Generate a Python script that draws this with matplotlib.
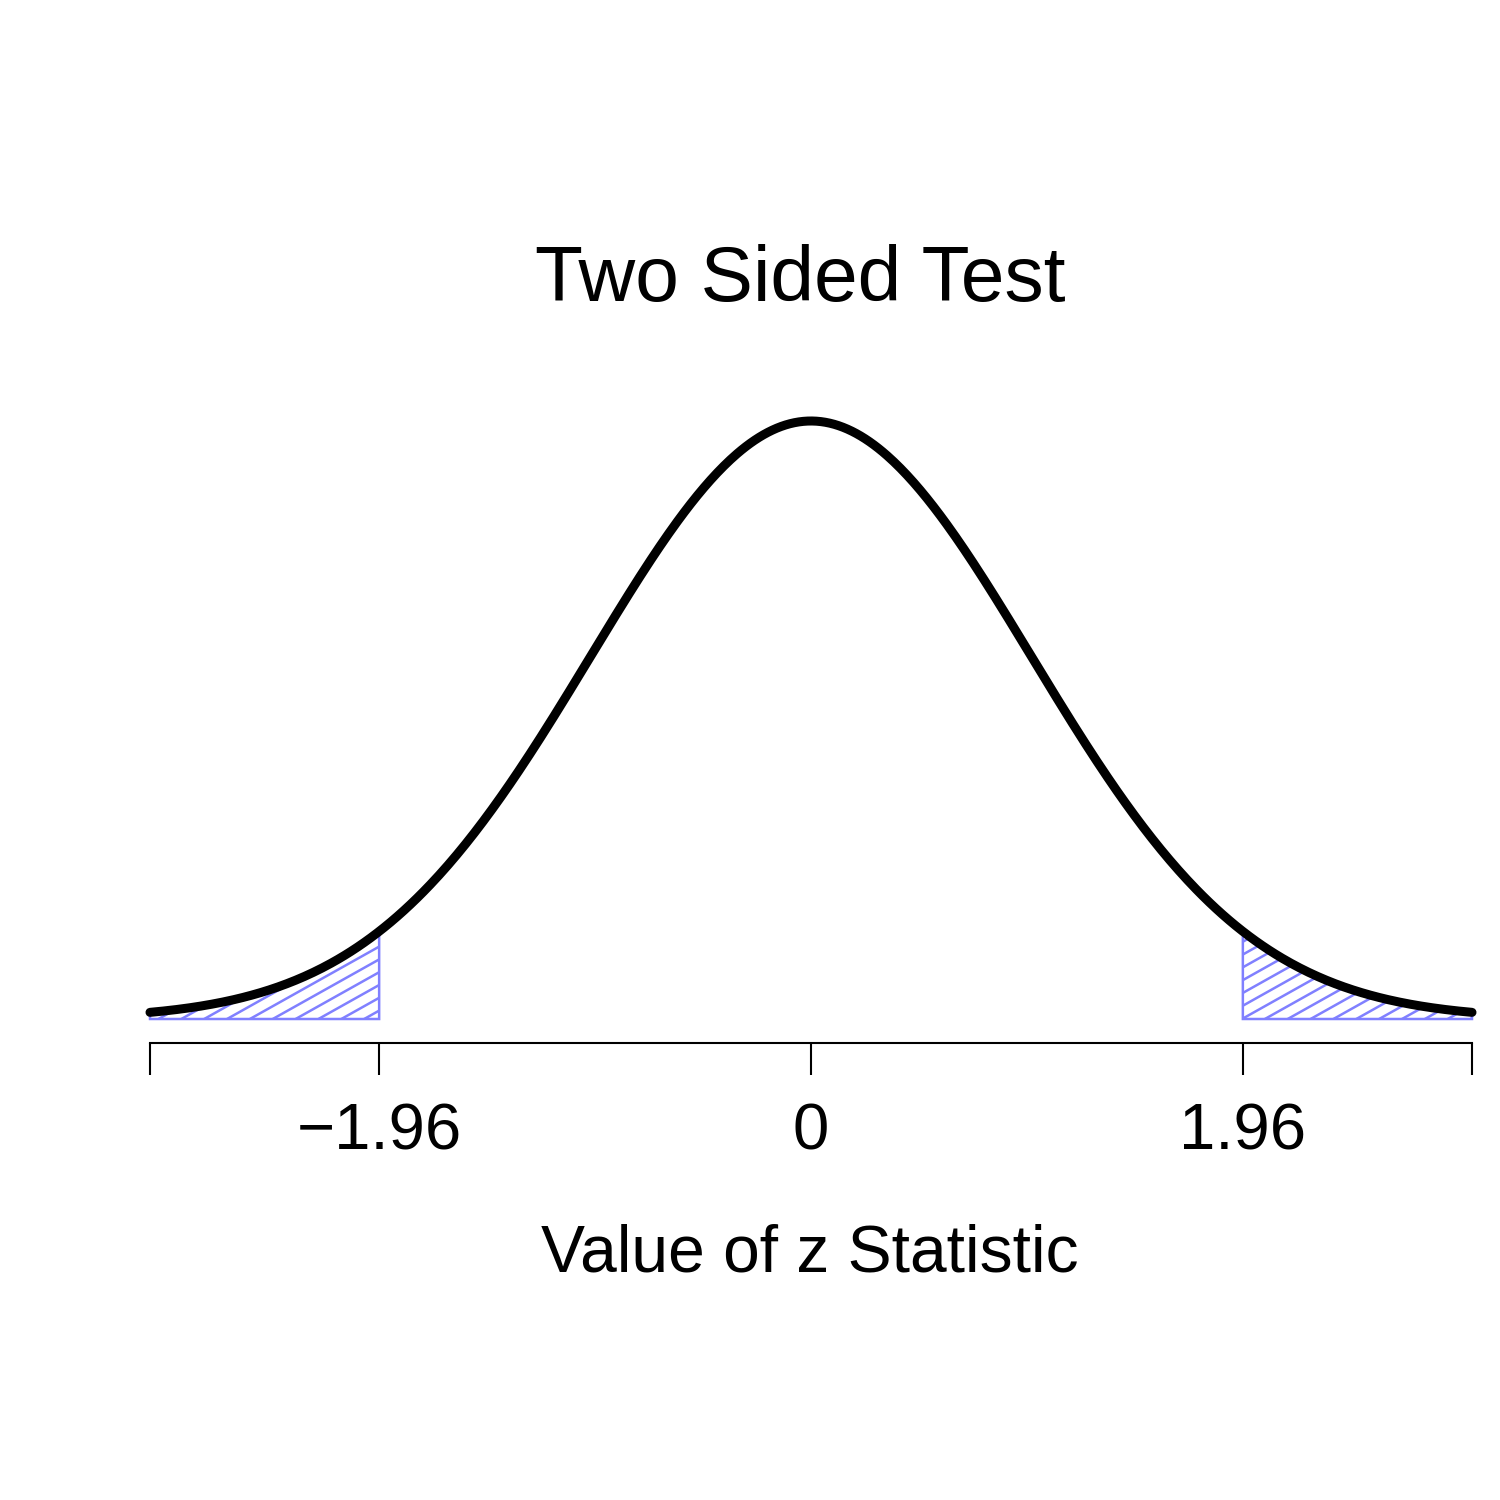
import numpy as np
import matplotlib
matplotlib.use("Agg")
import matplotlib.pyplot as plt
from matplotlib.transforms import IdentityTransform

# ---- data ----
mean = 0.0
sd = 1.0
critical = 1.96
x_range = [-3, 3]
tick_positions = [-3, -1.96, 0, 1.96, 3]
tick_labels = ["", "\u22121.96", "0", "1.96", ""]
title = "Two Sided Test"
xlabel = "Value of z Statistic"

plt.rcParams['font.family'] = ['Liberation Sans', 'DejaVu Sans']

W = H = 1500
fig = plt.figure(figsize=(15, 15), dpi=100)

peak = 1 / (sd * np.sqrt(2 * np.pi))
left_px, right_px = 150, 1472
bottom_px, top_px = 1019, 421
ax = fig.add_axes([left_px / W, (H - bottom_px) / H,
                   (right_px - left_px) / W, (bottom_px - top_px) / H])
ax.set_xlim(x_range)
ax.set_ylim(0, peak)
ax.patch.set_alpha(0)

def dens(v):
    return np.exp(-0.5 * ((v - mean) / sd) ** 2) / (sd * np.sqrt(2 * np.pi))

x = np.linspace(x_range[0], x_range[1], 600)
y = dens(x)

hatch_col = "#8080FF"

def tail(a, b, anchor_px):
    xs = np.linspace(a, b, 200)
    ys = dens(xs)
    px = np.concatenate([[xs[0]], xs, [xs[-1]]])
    py = np.concatenate([[0], ys, [0]])
    poly = ax.fill(px, py, facecolor="none", edgecolor=hatch_col, lw=1.8,
                   clip_on=False, zorder=2)[0]
    slope = 0.56
    spacing = 12.8
    ax0, ay0 = anchor_px
    for k in range(-90, 90):
        c = ay0 - slope * ax0 + k * spacing
        xx = np.array([0, W])
        yy = c + slope * xx
        ln, = ax.plot(xx, yy, color=hatch_col, lw=1.8, transform=IdentityTransform(),
                      zorder=2)
        ln.set_clip_path(poly)

tail(x_range[0], -critical, (379, H - 1010.7))
tail(critical, x_range[1], (1242, H - 1019))

ax.plot(x, y, color="black", lw=6.5, solid_capstyle="round", clip_on=False, zorder=3)

for s in ["top", "right", "left"]:
    ax.spines[s].set_visible(False)
ax.spines["bottom"].set_position(("outward", 17.3))
ax.spines["bottom"].set_bounds(x_range[0], x_range[1])
ax.spines["bottom"].set_linewidth(1.5)
ax.set_yticks([])
ax.set_xticks(tick_positions)
ax.set_xticklabels(tick_labels, fontsize=47)
ax.tick_params(axis="x", length=23, width=1.5, pad=20)

fig.text(800 / W, 1 - 301 / H, title, ha="center", va="baseline", fontsize=56.5)
fig.text(810 / W, 1 - 1272 / H, xlabel, ha="center", va="baseline", fontsize=47.5)

fig.savefig("out.png", dpi=100)
